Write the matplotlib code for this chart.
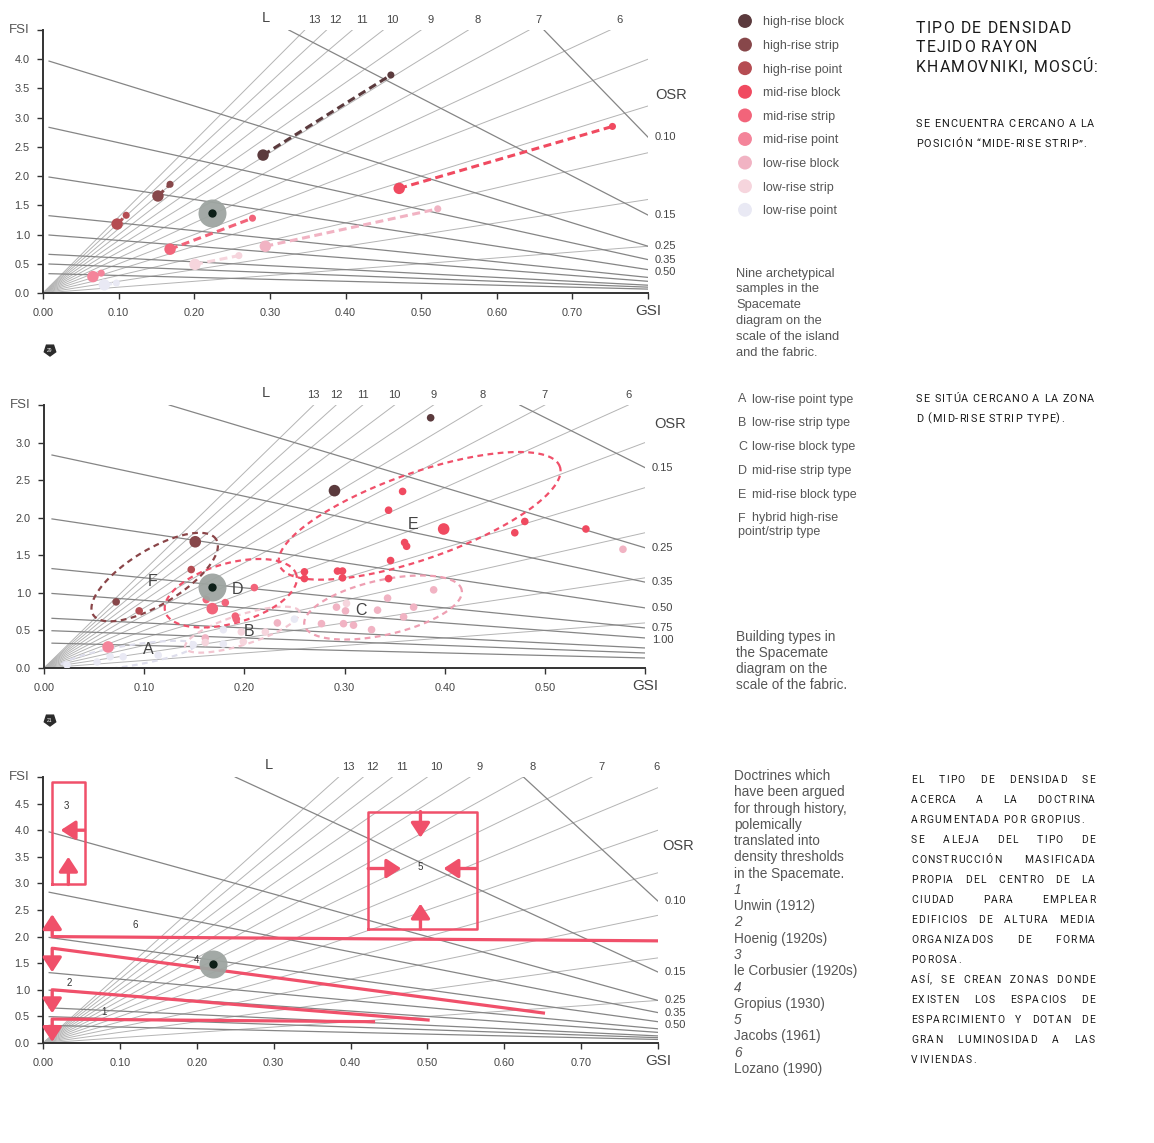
import numpy as np
import matplotlib
matplotlib.use("Agg")
import matplotlib.pyplot as plt
from matplotlib.font_manager import FontProperties
from matplotlib.patches import RegularPolygon
from matplotlib.textpath import TextToPath

# ---------------------------------------------------------------- data
type_names = ["high-rise block", "high-rise strip", "high-rise point",
              "mid-rise block", "mid-rise strip", "mid-rise point",
              "low-rise block", "low-rise strip", "low-rise point"]
type_colors = ["#5b3a3d", "#87474a", "#b54c52", "#f04a60", "#f2647a",
               "#f4849a", "#f1b3c3", "#f6d5dd", "#e9e9f4"]

# panel 1 : island (large dot) and fabric (small dot) per archetype
island_gsi = [0.291, 0.152, 0.098, 0.471, 0.168, 0.066, 0.294, 0.201, 0.081]
island_fsi = [2.36, 1.66, 1.18, 1.79, 0.75, 0.28, 0.80, 0.49, 0.14]
fabric_gsi = [0.460, 0.168, 0.110, 0.753, 0.277, 0.077, 0.522, 0.259, 0.097]
fabric_fsi = [3.73, 1.86, 1.33, 2.85, 1.28, 0.34, 1.44, 0.64, 0.17]
case_gsi_1, case_fsi_1 = 0.224, 1.37

# panel 2 : building samples (type index into type_names)
p2_gsi = [0.290, 0.386,
          0.151, 0.072,
          0.147, 0.095,
          0.358, 0.344, 0.399, 0.360, 0.362, 0.346, 0.344, 0.480, 0.470, 0.541,
          0.260, 0.260, 0.293, 0.298, 0.298,
          0.168, 0.162, 0.181, 0.191, 0.192, 0.210,
          0.064,
          0.389, 0.343, 0.333, 0.369, 0.359, 0.327, 0.301, 0.299, 0.309, 0.292,
          0.277, 0.578, 0.233, 0.161,
          0.221, 0.197, 0.199, 0.161, 0.302,
          0.250, 0.179, 0.149, 0.179, 0.079, 0.053, 0.114, 0.023, 0.066]
p2_fsi = [2.36, 3.33,
          1.68, 0.88,
          1.31, 0.76,
          2.35, 2.10, 1.85, 1.67, 1.62, 1.43, 1.19, 1.95, 1.80, 1.85,
          1.28, 1.19, 1.29, 1.29, 1.20,
          0.79, 0.91, 0.87, 0.69, 0.65, 1.07,
          0.28,
          1.04, 0.93, 0.77, 0.81, 0.68, 0.51, 0.76, 0.59, 0.57, 0.81,
          0.59, 1.58, 0.60, 0.40,
          0.48, 0.48, 0.35, 0.34, 0.86,
          0.65, 0.51, 0.31, 0.32, 0.15, 0.08, 0.17, 0.04, 0.15]
p2_type = [0, 0,
           1, 1,
           2, 2,
           3, 3, 3, 3, 3, 3, 3, 3, 3, 3,
           3, 3, 3, 3, 3,
           4, 4, 4, 4, 4, 4,
           5,
           6, 6, 6, 6, 6, 6, 6, 6, 6, 6,
           6, 6, 6, 6,
           7, 7, 7, 7, 7,
           8, 8, 8, 8, 8, 8, 8, 8, 8]
p2_large = [1, 0, 1, 0, 0, 0,
            0, 0, 1, 0, 0, 0, 0, 0, 0, 0,
            0, 0, 0, 0, 0,
            1, 0, 0, 0, 0, 0,
            1,
            0, 0, 0, 0, 0, 0, 0, 0, 0, 0, 0, 0, 0, 0,
            0, 0, 0, 0, 0,
            0, 0, 0, 0, 0, 0, 0, 0, 0]
case_gsi_2, case_fsi_2 = 0.168, 1.08

cluster_names = ["A", "B", "C", "D", "E", "F"]
cluster_desc = ["low-rise point type", "low-rise strip type", "low-rise block type",
                "mid-rise strip type", "mid-rise block type", "hybrid high-rise"]
cluster_label_gsi = [0.104, 0.205, 0.316, 0.193, 0.368, 0.108]
cluster_label_fsi = [0.24, 0.48, 0.77, 1.04, 1.91, 1.15]
# ellipse major-axis end points (GSI, FSI) and minor/major ratio
cluster_p1 = [(0.016, 0.013), (0.141, 0.27), (0.260, 0.57), (0.121, 0.75), (0.235, 1.37), (0.049, 0.71)]
cluster_p2 = [(0.151, 0.31), (0.255, 0.75), (0.417, 1.04), (0.252, 1.24), (0.515, 2.68), (0.172, 1.71)]
cluster_ratio = [0.15, 0.25, 0.34, 0.44, 0.29, 0.38]
cluster_colors = ["#dedeec", "#f3c6d1", "#ee9fb2", "#f0506a", "#f0506a", "#8a4548"]

# panel 3 : doctrines
doctrine_names = ["Unwin (1912)", "Hoenig (1920s)", "le Corbusier (1920s)",
                  "Gropius (1930)", "Jacobs (1961)", "Lozano (1990)"]
line_doctrines = ["1", "2", "4", "6"]
line_start = [(0.013, 0.45), (0.013, 1.00), (0.013, 1.78), (0.013, 2.00)]
line_end = [(0.432, 0.40), (0.503, 0.43), (0.653, 0.56), (0.800, 1.92)]
box_doctrines = ["3", "5"]
box_gsi = [(0.012, 0.054), (0.423, 0.564)]
box_fsi = [(2.98, 4.90), (2.14, 4.35)]
doct_arrow_tail = [(0.012, 2.00), (0.012, 1.78), (0.012, 1.00), (0.012, 0.45),
                   (0.054, 4.00), (0.033, 2.98),
                   (0.491, 4.35), (0.491, 2.14), (0.423, 3.28), (0.564, 3.28)]
doct_arrow_tip = [(0.012, 2.42), (0.012, 1.33), (0.012, 0.56), (0.012, 0.02),
                  (0.023, 4.00), (0.033, 3.50),
                  (0.491, 3.86), (0.491, 2.62), (0.466, 3.28), (0.521, 3.28)]
doct_label_text = ["1", "2", "3", "4", "5", "6"]
doct_label_gsi = [0.080, 0.034, 0.031, 0.200, 0.491, 0.120]
doct_label_fsi = [0.58, 1.12, 4.46, 1.56, 3.30, 2.21]
case_gsi_3, case_fsi_3 = 0.221, 1.48

# spacemate reference lines
L_values = list(range(1, 14))
L_labels = list(range(6, 14))
OSR_values = [0.075, 0.15, 0.25, 0.35, 0.5, 0.75, 1.0, 1.5, 2.0, 3.0]
osr_labels_13 = [(0.075, "0.10"), (0.15, "0.15"), (0.25, "0.25"), (0.35, "0.35"), (0.5, "0.50")]
osr_labels_2 = [(0.15, "0.15"), (0.25, "0.25"), (0.35, "0.35"), (0.5, "0.50"), (0.75, "0.75"), (1.0, "1.00")]

# texts
caption_1 = ["Nine archetypical", "samples in the", "Spacemate", "diagram on the",
             "scale of the island", "and the fabric."]
caption_2 = ["Building types in", "the Spacemate", "diagram on the", "scale of the fabric."]
caption_3 = ["Doctrines which", "have been argued", "for through history,", "polemically",
             "translated into", "density thresholds", "in the Spacemate."]
es_title = ["TIPO DE DENSIDAD", "TEJIDO RAYON", "KHAMOVNIKI, MOSCÚ:"]
es_note_1 = ["SE ENCUENTRA CERCANO A LA", "POSICIÓN “MIDE-RISE STRIP”."]
es_note_2 = ["SE SITÚA CERCANO A LA ZONA", "D (MID-RISE STRIP TYPE)."]
es_note_3 = [("EL TIPO DE DENSIDAD SE", True), ("ACERCA A LA DOCTRINA", True),
             ("ARGUMENTADA POR GROPIUS.", False), ("SE ALEJA DEL TIPO DE", True),
             ("CONSTRUCCIÓN MASIFICADA", True), ("PROPIA DEL CENTRO DE LA", True),
             ("CIUDAD PARA EMPLEAR", True), ("EDIFICIOS DE ALTURA MEDIA", True),
             ("ORGANIZADOS DE FORMA", True), ("POROSA.", False),
             ("ASÍ, SE CREAN ZONAS DONDE", True), ("EXISTEN LOS ESPACIOS DE", True),
             ("ESPARCIMIENTO Y DOTAN DE", True), ("GRAN LUMINOSIDAD A LAS", True),
             ("VIVIENDAS.", False)]

# ---------------------------------------------------------------- figure
W, H = 1154, 1143
fig = plt.figure(figsize=(W / 100, H / 100), dpi=100)
fig.patch.set_facecolor("white")
SANS = "Liberation Sans"
GREY_TXT = "#565656"
RED = "#f0506a"


def px_axes(l, t, r, b):
    return fig.add_axes([l / W, 1 - b / H, (r - l) / W, (b - t) / H])


def setup(ax, xmax, ymax, ytick_step):
    ax.set_xlim(0, xmax)
    ax.set_ylim(0, ymax)
    ax.set_facecolor("none")
    for s in ["top", "right"]:
        ax.spines[s].set_visible(False)
    for s in ["left", "bottom"]:
        ax.spines[s].set_color("#333333")
        ax.spines[s].set_linewidth(1.4)
    xt = np.round(np.arange(0, xmax + 1e-9, 0.1), 2)
    yt = np.round(np.arange(0, ymax + 1e-9, ytick_step), 2)
    ax.set_xticks(xt)
    ax.set_xticklabels([f"{v:.2f}" for v in xt[:-1]] + [""])
    ax.set_yticks(yt)
    ax.set_yticklabels([f"{v:.1f}" for v in yt[:-1]] + [""])
    ax.tick_params(axis="x", length=4, width=1, color="#333333", pad=7,
                   labelsize=7.8, labelcolor="#444444")
    ax.tick_params(axis="y", length=4, width=1, color="#333333", pad=5.5,
                   labelsize=7.8, labelcolor="#444444")
    for lab in ax.get_xticklabels() + ax.get_yticklabels():
        lab.set_fontfamily(SANS)
    ax.annotate("GSI", xy=(xmax, 0), xytext=(0, -13), textcoords="offset points",
                ha="center", va="center", fontsize=11, color="#444444", family=SANS)
    ax.annotate("FSI", xy=(0, ymax), xytext=(-17, 0), textcoords="offset points",
                ha="center", va="center", fontsize=9.5, color="#555555", family=SANS)


def spacemate_grid(ax, xmax, ymax, osr_labels, L_dx, L_gsi_pos, osr_pos, axh_px):
    for L in L_values:
        g_end = min(xmax, ymax / L)
        ax.plot([0, g_end], [0, L * g_end], color="#b4b4b4", lw=0.7, zorder=1)
    for o in OSR_values:
        g0 = max(0.008, 1 - ymax * o)
        if g0 >= xmax:
            continue
        g = np.array([g0, xmax])
        ax.plot(g, (1 - g) / o, color="#858585", lw=0.9, zorder=1)
    for L in L_labels:
        gx = min(ymax / L + L_dx, xmax - 0.002)
        ax.annotate(str(L), xy=(gx, ymax), xytext=(0, 7.5), textcoords="offset points",
                    ha="center", va="center", fontsize=8, color="#444444",
                    family=SANS, annotation_clip=False)
    ax.annotate("L", xy=(L_gsi_pos, ymax), xytext=(0, 8.5), textcoords="offset points",
                ha="center", va="center", fontsize=10.5, color="#444444",
                family=SANS, annotation_clip=False)
    ax.text(osr_pos[0], osr_pos[1], "OSR", ha="center", va="center", fontsize=10.5,
            color="#444444", family=SANS, clip_on=False)
    px_per_f = axh_px / ymax
    prev = None
    for o, txt in osr_labels:
        f = (1 - xmax) / o
        if prev is not None:
            f = min(f, prev - 12.0 / px_per_f)
        prev = f
        ax.annotate(txt, xy=(xmax, f), xytext=(5, 0), textcoords="offset points",
                    ha="left", va="center", fontsize=8, color="#444444",
                    family=SANS, annotation_clip=False)


def case_marker(ax, g, f):
    ax.scatter([g], [f], s=406, color="#9ea5a1", alpha=0.95, lw=0, zorder=6)
    ax.scatter([g], [f], s=36, color="#0d1f18", lw=0, zorder=7)


# ---------------- panel 1
ax1 = px_axes(43, 30, 648, 293)
setup(ax1, 0.8, 4.5, 0.5)
spacemate_grid(ax1, 0.8, 4.5, osr_labels_13, 0.012, 0.295, (0.830, 3.38), 263)
for i in range(len(type_names)):
    c = type_colors[i]
    ax1.plot([island_gsi[i], fabric_gsi[i]], [island_fsi[i], fabric_fsi[i]],
             ls=(0, (2.6, 1.5)), lw=2.2, color=c, zorder=3)
ax1.scatter(fabric_gsi, fabric_fsi, s=26, c=type_colors, lw=0, zorder=4)
ax1.scatter(island_gsi, island_fsi, s=68, c=type_colors, lw=0, zorder=5)
case_marker(ax1, case_gsi_1, case_fsi_1)

# ---------------- panel 2
ax2 = px_axes(44, 405, 645, 668)
setup(ax2, 0.6, 3.5, 0.5)
spacemate_grid(ax2, 0.6, 3.5, osr_labels_2, 0.0, 0.221, (0.625, 3.25), 263)
T = ax2.transData
for p1, p2, r, c in zip(cluster_p1, cluster_p2, cluster_ratio, cluster_colors):
    a = T.transform(p1)
    b = T.transform(p2)
    cen = (a + b) / 2
    u = (b - a) / 2
    v = np.array([-u[1], u[0]]) * r
    t = np.linspace(0, 2 * np.pi, 240)
    pts = cen + np.outer(np.cos(t), u) + np.outer(np.sin(t), v)
    d = T.inverted().transform(pts)
    ax2.plot(d[:, 0], d[:, 1], ls=(0, (2.6, 2.0)), lw=1.6, color=c, zorder=2)
cols2 = [type_colors[k] for k in p2_type]
sizes2 = [70 if big else 30 for big in p2_large]
ax2.scatter(p2_gsi, p2_fsi, s=sizes2, c=cols2, lw=0, zorder=4)
case_marker(ax2, case_gsi_2, case_fsi_2)
for n, g, f in zip(cluster_names, cluster_label_gsi, cluster_label_fsi):
    ax2.text(g, f, n, fontsize=11.5, color="#444444", family=SANS,
             ha="center", va="center", zorder=8)

# ---------------- panel 3
ax3 = px_axes(43, 777, 658, 1043)
setup(ax3, 0.8, 5.0, 0.5)
spacemate_grid(ax3, 0.8, 5.0, osr_labels_13, 0.012, 0.294, (0.826, 3.70), 266)
for s, e in zip(line_start, line_end):
    ax3.plot([s[0], e[0]], [s[1], e[1]], color=RED, lw=2.3, zorder=4,
             solid_capstyle="butt")
for (g0, g1), (f0, f1) in zip(box_gsi, box_fsi):
    ax3.plot([g0, g1, g1, g0, g0], [f0, f0, f1, f1, f0], color=RED, lw=1.8, zorder=4)
for tail, tip in zip(doct_arrow_tail, doct_arrow_tip):
    ax3.annotate("", xy=tip, xytext=tail,
                 arrowprops=dict(arrowstyle="-|>,head_length=0.55,head_width=0.36",
                                 mutation_scale=16, lw=2.4, color=RED,
                                 shrinkA=0, shrinkB=0), zorder=5, annotation_clip=False)
for t, g, f in zip(doct_label_text, doct_label_gsi, doct_label_fsi):
    ax3.text(g, f, t, fontsize=7, color="#333333", family=SANS, ha="center",
             va="center", zorder=6)
case_marker(ax3, case_gsi_3, case_fsi_3)

# ---------------------------------------------------------------- texts (pixel overlay)
ov = fig.add_axes([0, 0, 1, 1], facecolor="none", zorder=20)
ov.set_xlim(0, W)
ov.set_ylim(H, 0)
ov.axis("off")


def put(x, yc, s, size, color=GREY_TXT, style="normal", family=SANS):
    base = yc + 0.36 * size * 100 / 72
    ov.text(x, base, s, fontsize=size, color=color, family=family, style=style,
            ha="left", va="baseline")


# legend of panel 1
leg_y = [21 + 23.6 * i for i in range(9)]
ov.scatter([745] * 9, leg_y, s=100, c=type_colors, lw=0)
for n, y in zip(type_names, leg_y):
    put(763, y, n, 9)
for i, s in enumerate(caption_1):
    put(736, 272 + 15.8 * i, s, 9.3)

# cluster list of panel 2
cl_y = [398 + 23.8 * i for i in range(6)]
for n, d, y in zip(cluster_names, cluster_desc, cl_y):
    put(738, y, n, 9)
    put(752, y, d, 9)
put(738, cl_y[-1] + 14, "point/strip type", 9)
for i, s in enumerate(caption_2):
    put(736, 636 + 16 * i, s, 9.8)

# doctrine list of panel 3
for i, s in enumerate(caption_3):
    put(734, 775 + 16.3 * i, s, 9.8)
for i, n in enumerate(doctrine_names):
    put(734, 889 + 32.6 * i, str(i + 1), 9.8, style="italic")
    put(734, 905 + 32.6 * i, n, 9.8)

# page badges
for (bx, by), num in zip([(50, 350), (50, 720)], ["29", "21"]):
    ov.add_patch(RegularPolygon((bx, by), 5, radius=6, color="#2b2b2b"))
    ov.text(bx, by + 0.5, num, fontsize=3.5, color="white", ha="center", va="center",
            family=SANS)

# letter-spaced spanish text (float metrics from TextToPath)
ttp = TextToPath()


def wpx(s, prop):
    return ttp.get_text_width_height_descent(s, prop, False)[0] * 100 / 72


def adv(ch, prop):
    return wpx("H" + ch + "H", prop) - wpx("HH", prop)


def lsb(ch, prop):
    return wpx("H" + ch, prop) - wpx("HH", prop) + wpx("H", prop) - wpx(ch, prop)


def natural(line, prop):
    return sum(adv(c, prop) for c in line)


def spaced(line, x0, yc, prop, tracking, width=None, color="#1a1a1a"):
    size_px = prop.get_size_in_points() * 100 / 72
    base = yc + 0.355 * size_px
    words = line.split(" ")
    if width is not None and len(words) > 1:
        ww = [sum(adv(c, prop) for c in w) + tracking * (len(w) - 1) for w in words]
        gap = (width - sum(ww)) / (len(words) - 1)
    else:
        gap = adv(" ", prop) + 2 * tracking
    x = x0
    for w in words:
        for c in w:
            ov.text(x + lsb(c, prop), base, c, fontproperties=prop, color=color,
                    ha="left", va="baseline")
            x += adv(c, prop) + tracking
        x = x - tracking + gap


def block(lines, x0, y0, dy, prop, ref_line, ref_width, just_width=None):
    tr = (ref_width - natural(ref_line, prop)) / (len(ref_line) - 1)
    for i, item in enumerate(lines):
        if isinstance(item, tuple):
            s, j = item
        else:
            s, j = item, False
        spaced(s, x0, y0 + dy * i, prop, tr, width=just_width if j else None)


p_title = FontProperties(family="Roboto", weight="normal", size=11.4)
p_note = FontProperties(family="Roboto", weight="normal", size=7.8)
p_body = FontProperties(family="Roboto", weight="normal", size=7.4)
block(es_title, 916, 27, 19.5, p_title, es_title[0], 155)
block(es_note_1, 916, 123, 20, p_note, es_note_1[0], 178)
block(es_note_2, 916, 398, 20, p_note, es_note_2[0], 178)
block(es_note_3, 911, 779, 20, p_body, es_note_3[2][0], 173, just_width=184)

fig.savefig("out.png", dpi=100, facecolor="white")
